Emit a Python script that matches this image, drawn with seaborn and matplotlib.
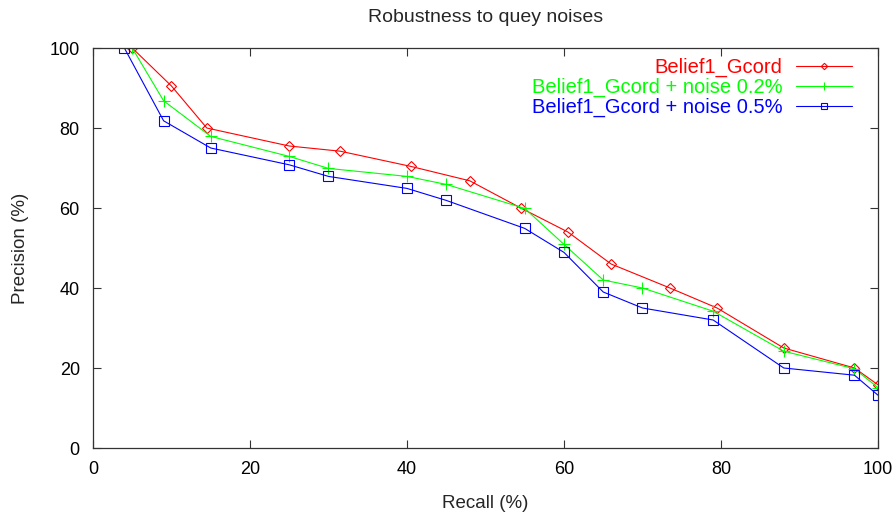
import matplotlib
matplotlib.use("Agg")
import matplotlib.pyplot as plt
import pandas as pd
import seaborn as sns

# ─── Data ─────────────────────────────────────────────────────────────────────
RECALL_BASE   = [5, 10, 14.5, 25, 31.5, 40.5, 48, 54.5, 60.5, 66, 73.5, 79.5, 88, 97, 100]
PREC_BASE     = [100, 90.5, 80, 75.5, 74.2, 70.4, 66.8, 60, 54, 46, 40, 35, 25, 20, 15.8]

RECALL_N02    = [5, 9, 15, 25, 30, 40, 45, 55, 60, 65, 70, 79, 88, 97, 100]
PREC_N02      = [100, 86.8, 77.9, 72.9, 69.9, 67.9, 65.9, 59.9, 50.9, 42, 40, 34.2, 24.2, 19.8, 15.1]

RECALL_N05    = [4, 9, 15, 25, 30, 40, 45, 55, 60, 65, 70, 79, 88, 97, 100]
PREC_N05      = [100, 81.8, 75, 70.8, 67.9, 64.9, 61.9, 54.9, 48.9, 39, 35, 32, 20, 18.2, 13.2]

LABELS  = ["Belief1_Gcord", "Belief1_Gcord + noise 0.2%", "Belief1_Gcord + noise 0.5%"]
COLORS  = ["#ff0000", "#00ff00", "#0000ff"]
MARKERS = ["D", "+", "s"]
SIZES   = [5, 8, 6.5]

X_TICKS = [0, 20, 40, 60, 80, 100]
Y_TICKS = [0, 20, 40, 60, 80, 100]

sns.set_style("ticks")
plt.rcParams["font.family"] = ["Liberation Sans", "DejaVu Sans"]

fig = plt.figure(figsize=(8.93, 5.14), dpi=100)
ax = fig.add_axes([0.1041, 0.1284, 0.8791, 0.7782])

series = [(RECALL_BASE, PREC_BASE), (RECALL_N02, PREC_N02), (RECALL_N05, PREC_N05)]
for (xs, ys), label, color, marker, ms in zip(series, LABELS, COLORS, MARKERS, SIZES):
    df = pd.DataFrame({"Recall": xs, "Precision": ys})
    sns.lineplot(data=df, x="Recall", y="Precision", ax=ax, label=label,
                 color=color, linewidth=0.8, marker=marker, markersize=ms,
                 markerfacecolor="none", markeredgecolor=color,
                 markeredgewidth=0.8, sort=False)

ax.set_xlim(0, 100)
ax.set_ylim(0, 100)
ax.set_xticks(X_TICKS)
ax.set_yticks(Y_TICKS)
ax.tick_params(direction="in", length=6, width=0.8, labelsize=13,
               top=True, right=True, colors="#333333", labelcolor="black",
               pad=9.5)
for spine in ax.spines.values():
    spine.set_visible(True)
    spine.set_color("#333333")
    spine.set_linewidth(0.9)

ax.set_xlabel("Recall (%)", fontsize=13.5, labelpad=12)
ax.set_ylabel("Precision (%)", fontsize=13.5, labelpad=15)
ax.set_title("Robustness to quey noises", fontsize=14, pad=19)

ax.legend(loc="upper right", bbox_to_anchor=(0.983, 1.008), frameon=False,
          markerfirst=False, labelcolor="linecolor", fontsize=14.5,
          handlelength=2.75, handletextpad=0.68, labelspacing=0.04,
          borderaxespad=0.25, markerscale=0.65)

fig.savefig("out.png", dpi=100)
